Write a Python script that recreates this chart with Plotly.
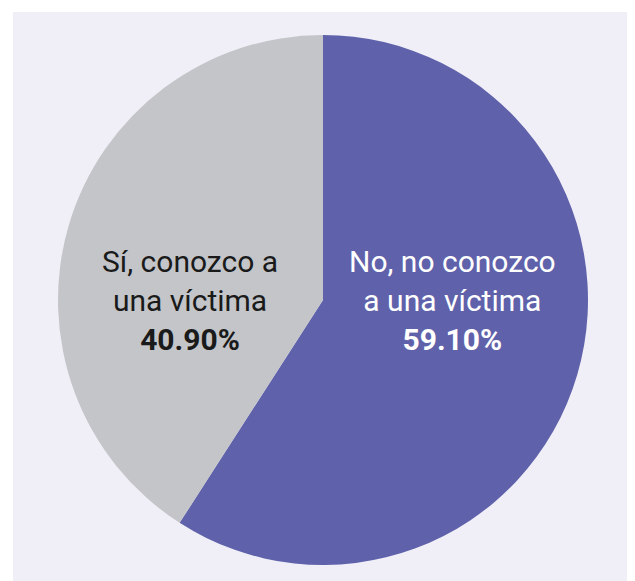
import plotly.graph_objects as go

labels = ["No, no conozco<br>a una víctima", "Sí, conozco a<br>una víctima"]
values = [59.10, 40.90]
colors = ["#5f62aa", "#c3c5c9"]
text_colors = ["#ffffff", "#1a1a1a"]

# page has an 8px body margin; figure coordinates = screen - 8
OFF = 8
W, H = 635 - OFF, 581 - OFF
label_pos = [(452 - OFF, 300 - OFF), (190 - OFF, 300 - OFF)]

cx, cy, r = 323 - OFF, 300 - OFF, 265

fig = go.Figure()
fig.add_trace(go.Pie(
    labels=labels,
    values=values,
    marker=dict(colors=colors, line=dict(width=0)),
    sort=False,
    direction="clockwise",
    rotation=0,
    textinfo="none",
    hoverinfo="label+percent",
    showlegend=False,
    domain=dict(x=[(cx - r) / W, (cx + r) / W],
                y=[(H - cy - r) / H, (H - cy + r) / H]),
))

annotations = []
for lab, val, tc, (px, py) in zip(labels, values, text_colors, label_pos):
    annotations.append(dict(
        x=px / W, y=1 - py / H, xref="paper", yref="paper",
        text=f"{lab}<br><b>{val:.2f}%</b>",
        showarrow=False, align="center",
        font=dict(family="Roboto, Inter, sans-serif", size=30, color=tc),
        xanchor="center", yanchor="middle",
    ))

fig.update_layout(
    width=W, height=H,
    margin=dict(l=0, r=0, t=0, b=0),
    paper_bgcolor="#ffffff",
    shapes=[dict(type="rect", xref="paper", yref="paper",
                 x0=(13 - OFF) / W, x1=1.02, y0=-0.02, y1=1 - (12 - OFF) / H,
                 fillcolor="#f0eff8", line=dict(width=0), layer="below")],
    annotations=annotations,
)

fig.write_html("out.html")
